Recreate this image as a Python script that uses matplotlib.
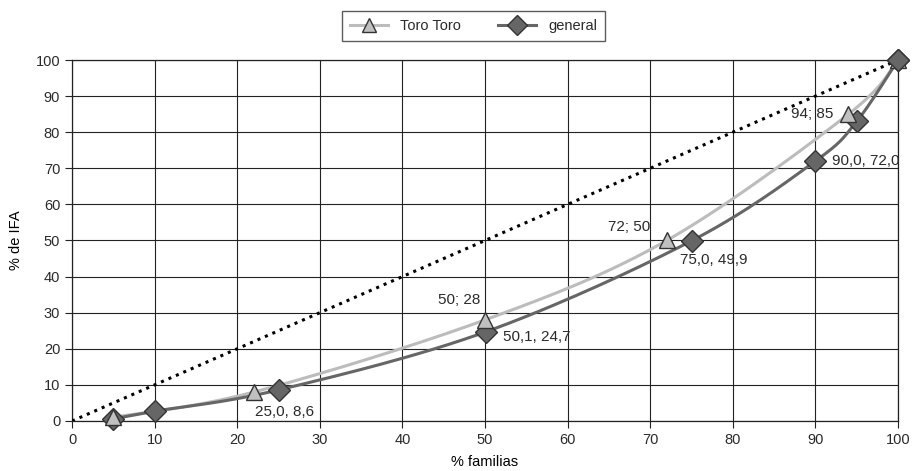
import numpy as np
import matplotlib
matplotlib.use('Agg')
from matplotlib import pyplot as plt
from matplotlib import rcParams

# data
toro_x = [5, 22, 50, 72, 94, 100]
toro_y = [1, 8, 28, 50, 85, 100]
gen_x = [5, 10, 25, 50.1, 75, 90, 95, 100]
gen_y = [0.6, 2.7, 8.6, 24.7, 49.9, 72.0, 83, 100]

toro_labels = {2: '50; 28', 3: '72; 50', 4: '94; 85'}
gen_labels = {2: '25,0, 8,6', 3: '50,1, 24,7', 4: '75,0, 49,9', 5: '90,0, 72,0'}

x_ticks = list(range(0, 101, 10))
y_ticks = list(range(0, 101, 10))


def smooth(xs, ys, n=30):
    """bezier smoothing like spreadsheet 'smoothed line'"""
    p = np.column_stack([xs, ys]).astype(float)
    out = []
    for i in range(len(p) - 1):
        p0 = p[i - 1] if i > 0 else p[i]
        p1, p2 = p[i], p[i + 1]
        p3 = p[i + 2] if i + 2 < len(p) else p[i + 1]
        c1 = p1 + (p2 - p0) / 6
        c2 = p2 - (p3 - p1) / 6
        t = np.linspace(0, 1, n)[:, None]
        seg = ((1 - t) ** 3) * p1 + 3 * ((1 - t) ** 2) * t * c1 + 3 * (1 - t) * t ** 2 * c2 + t ** 3 * p2
        out.append(seg)
    seg = np.vstack(out)
    return seg[:, 0], seg[:, 1]


def set_style():
    rcParams['font.family'] = ['Liberation Sans', 'DejaVu Sans']
    rcParams['font.size'] = 10.5
    rcParams['text.color'] = '#2a2a2a'


def main():
    set_style()
    fig = plt.figure(figsize=(9.14, 4.71), dpi=100)
    ax = fig.add_axes([0.0788, 0.1062, 0.9037, 0.7664])

    ax.set_xlim(0, 100)
    ax.set_ylim(0, 100)
    ax.set_xticks(x_ticks)
    ax.set_yticks(y_ticks)
    ax.grid(True, color='#222222', linewidth=0.8)
    ax.set_axisbelow(True)
    for s in ax.spines.values():
        s.set_color('#222222')
        s.set_linewidth(0.9)
    ax.tick_params(axis='both', direction='out', length=5, width=0.8, colors='#222222',
                   labelcolor='#2a2a2a', labelsize=10.5)

    ax.plot([0, 100], [0, 100], color='black', linestyle=':', linewidth=2.2, zorder=3)

    sx, sy = smooth(toro_x, toro_y)
    ax.plot(sx, sy, color='#bcbcbc', linewidth=2.2, zorder=4, clip_on=False)
    gx, gy = smooth(gen_x, gen_y)
    ax.plot(gx, gy, color='#666666', linewidth=2.2, zorder=4, clip_on=False)

    ax.plot(gen_x, gen_y, linestyle='none', marker='D', markersize=11,
            markerfacecolor='#666666', markeredgecolor='#333333', markeredgewidth=1.0,
            zorder=5, clip_on=False)
    ax.plot(toro_x, toro_y, linestyle='none', marker='^', markersize=12,
            markerfacecolor='#c0c0c0', markeredgecolor='#333333', markeredgewidth=1.0,
            zorder=6, clip_on=False)
    # end point: diamond drawn last so it sits on top
    ax.plot(gen_x[-1:], gen_y[-1:], linestyle='none', marker='D', markersize=11,
            markerfacecolor='#666666', markeredgecolor='#333333', markeredgewidth=1.0,
            zorder=7, clip_on=False)

    # legend handles
    h1, = ax.plot([], [], color='#bcbcbc', linewidth=2.2, marker='^', markersize=10,
                  markerfacecolor='#c0c0c0', markeredgecolor='#333333')
    h2, = ax.plot([], [], color='#666666', linewidth=2.2, marker='D', markersize=10,
                  markerfacecolor='#666666', markeredgecolor='#333333')
    fig.legend(handles=[h1, h2], labels=['Toro Toro', 'general'], loc='center',
               bbox_to_anchor=(0.518, 0.9445), ncol=2, frameon=True, fancybox=False,
               edgecolor='#333333', fontsize=10.5, handlelength=2.6, handletextpad=0.8,
               columnspacing=2.6, borderpad=0.55, borderaxespad=0)

    offsets_t = {2: (-3, 14, 'right', 'center'), 3: (-12, 10, 'right', 'center'),
                 4: (-11, 0, 'right', 'center')}
    for i, txt in toro_labels.items():
        dx, dy, ha, va = offsets_t[i]
        ax.annotate(txt, (toro_x[i], toro_y[i]), xytext=(dx, dy), textcoords='offset points',
                    ha=ha, va=va, fontsize=11, zorder=8)
    offsets_g = {2: (4, -16, 'center', 'center'), 3: (12, -4, 'left', 'center'),
                 4: (16, -14, 'center', 'center'), 5: (12, 0, 'left', 'center')}
    for i, txt in gen_labels.items():
        dx, dy, ha, va = offsets_g[i]
        ax.annotate(txt, (gen_x[i], gen_y[i]), xytext=(dx, dy), textcoords='offset points',
                    ha=ha, va=va, fontsize=11, zorder=8)

    ax.set_xlabel('% familias', fontsize=10.5)
    ax.set_ylabel('% de IFA', fontsize=10.5)
    ax.xaxis.set_label_coords(0.5, -0.095)
    ax.yaxis.set_label_coords(-0.059, 0.5)

    fig.savefig('out.png', dpi=100)


if __name__ == '__main__':
    main()
